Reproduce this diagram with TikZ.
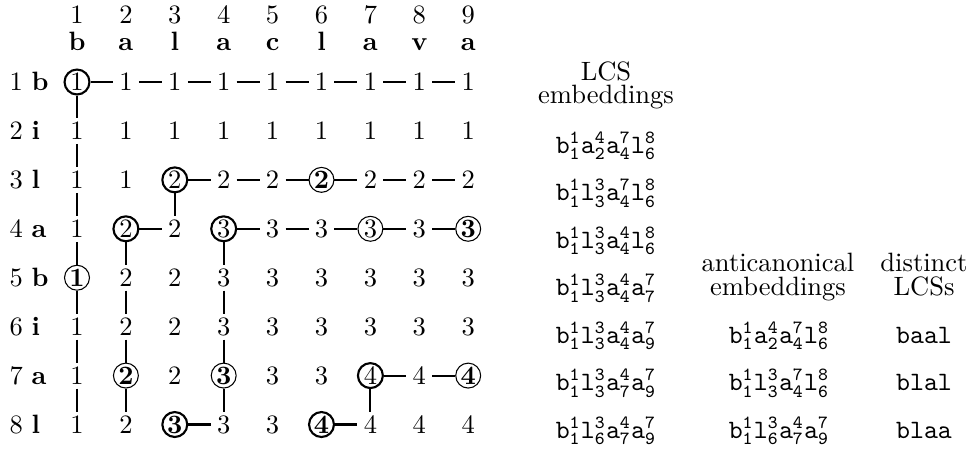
\documentclass[tikz,border=0pt]{standalone}
\begin{document}
\begin{tikzpicture}[x=0.377pt,y=-0.377pt,
  cell/.style={circle,inner sep=0pt,minimum size=9.4pt},
  tn/.style={draw,line width=0.8pt},
  tb/.style={draw,line width=0.8pt,font=\bfseries},
  nb/.style={draw,line width=0.4pt,font=\bfseries},
  nn/.style={draw,line width=0.4pt},
  conn/.style={line width=0.8pt},
  s-1-1/.style={tn}, s-3-3/.style={tn}, s-3-6/.style={nb},
  s-4-2/.style={tn}, s-4-4/.style={tn}, s-4-7/.style={nn}, s-4-9/.style={nb},
  s-5-1/.style={nb}, s-7-2/.style={nb}, s-7-4/.style={nb}, s-7-7/.style={tn},
  s-7-9/.style={nb}, s-8-3/.style={tb}, s-8-6/.style={tb},
  lbl/.style={anchor=base,inner sep=0pt},
  rowlbl/.style={anchor=base west,inner sep=0pt},
]
\useasboundingbox (0,0) rectangle (969,450);
% column headers
\foreach \c [count=\j] in {b,a,l,a,c,l,a,v,a} {
  \node[lbl] (h-\j) at ({77+48.9*(\j-1)},23) {\j};
  \node[lbl,font=\bfseries] (l-\j) at ({77+48.9*(\j-1)},50) {\c};
}
% row labels
\foreach \c [count=\i] in {b,i,l,a,b,i,a,l} {
  \node[rowlbl] (r-\i) at (9,{90.5+48.93*(\i-1)}) {\i\ \textbf{\c}};
}
% matrix
\foreach \row [count=\i] in {
  {1,1,1,1,1,1,1,1,1},
  {1,1,1,1,1,1,1,1,1},
  {1,1,2,2,2,2,2,2,2},
  {1,2,2,3,3,3,3,3,3},
  {1,2,2,3,3,3,3,3,3},
  {1,2,2,3,3,3,3,3,3},
  {1,2,2,3,3,3,4,4,4},
  {1,2,3,3,3,4,4,4,4}} {
  \foreach \v [count=\j] in \row {
    \node[cell,s-\i-\j/.try] (m-\i-\j) at ({77+48.9*(\j-1)},{82+48.93*(\i-1)}) {\v};
  }
}
% horizontal connectors
\foreach \i/\a/\b in {1/1/2,1/2/3,1/3/4,1/4/5,1/5/6,1/6/7,1/7/8,1/8/9,
  3/3/4,3/4/5,3/5/6,3/6/7,3/7/8,3/8/9,
  4/2/3,4/4/5,4/5/6,4/6/7,4/7/8,4/8/9,
  7/7/8,7/8/9, 8/3/4,8/6/7}
  \draw[conn] (m-\i-\a) -- (m-\i-\b);
% vertical connectors
\foreach \j/\a/\b in {1/1/2,1/2/3,1/3/4,1/4/5,1/5/6,1/6/7,1/7/8,
  2/4/5,2/5/6,2/6/7,2/7/8, 3/3/4,
  4/4/5,4/5/6,4/6/7,4/7/8, 7/7/8}
  \draw[conn] (m-\a-\j) -- (m-\b-\j);
% right tables
\node[lbl] (hA1) at (606,80) {LCS};
\node[lbl] (hA2) at (606,103) {embeddings};
\node[lbl] (hB1) at (778,271) {anticanonical};
\node[lbl] (hB2) at (778,295) {embeddings};
\node[lbl] (hC1) at (924,271) {distinct};
\node[lbl] (hC2) at (924,295) {LCSs};
\foreach \e [count=\k] in {
  b^1_1a^4_2a^7_4l^8_6,
  b^1_1l^3_3a^7_4l^8_6,
  b^1_1l^3_3a^4_4l^8_6,
  b^1_1l^3_3a^4_4a^7_7,
  b^1_1l^3_3a^4_4a^7_9,
  b^1_1l^3_3a^4_7a^7_9,
  b^1_1l^3_6a^4_7a^7_9}
  \node[lbl] (e-\k) at (606,{153+47.5*(\k-1)}) {$\mathtt{\e}$};
\foreach \e [count=\k from 5] in {
  b^1_1a^4_2a^7_4l^8_6,
  b^1_1l^3_3a^7_4l^8_6,
  b^1_1l^3_6a^4_7a^7_9}
  \node[lbl] (ac-\k) at (779,{153+47.5*(\k-1)}) {$\mathtt{\e}$};
\foreach \e [count=\k from 5] in {baal,blal,blaa}
  \node[lbl] (d-\k) at (924,{153+47.5*(\k-1)}) {\texttt{\e}};
\end{tikzpicture}
\end{document}
